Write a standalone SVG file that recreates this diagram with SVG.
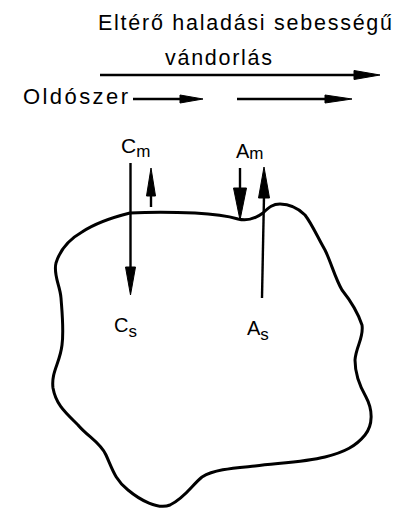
<svg xmlns="http://www.w3.org/2000/svg" width="404" height="512" viewBox="0 0 404 512">
  <style>
    .lbl { font-family: "Liberation Sans", "DejaVu Sans", sans-serif; fill: #000; }
    .shaft { stroke: #000; stroke-width: 2.4; fill: none; }
    .head { fill: #000; stroke: #000; stroke-width: 1; stroke-linejoin: round; }
    .outline { fill: none; stroke: #000; stroke-width: 3; stroke-linejoin: round; }
  </style>
  <rect width="404" height="512" fill="#fff"/>

  <!-- heading -->
  <g id="title">
    <text class="lbl" x="98" y="30" font-size="21.5" textLength="294" lengthAdjust="spacing">Eltérő haladási sebességű</text>
    <text class="lbl" x="165" y="65" font-size="21.5" textLength="107" lengthAdjust="spacing">vándorlás</text>
  </g>
  <g id="solvent">
    <text class="lbl" x="23" y="104" font-size="22" textLength="105" lengthAdjust="spacing">Oldószer</text>
  </g>

  <!-- particle outline -->
  <g id="particle">
    <path class="outline" d="M130,213 C150,212 170,212 195,213 C215,214 228,216 238,219 C246,221 255,219 263,213 C269,207 273,204 280,204 C290,204 298,208 305,215 C312,224 318,238 325,250 C331,262 335,278 342,290 C350,300 357,310 362,325 C364,338 356,346 355,360 C355,373 358,383 366,397 C373,410 373,425 365,435 C356,446 345,452 325,457 C305,462 280,463 255,466 C235,468 215,469 202,477 C192,485 185,498 170,505 C158,510 140,500 128,490 C115,480 112,468 106,455 C100,442 88,437 78,425 C66,413 56,405 53,388 C51,372 60,363 62,345 C64,330 62,312 61,298 C60,285 53,275 56,263 C60,250 68,240 82,232 C94,224 110,218 130,213 Z"/>
  </g>

  <!-- labels -->
  <g id="Cm">
    <text class="lbl" x="121" y="153" font-size="21">C<tspan font-size="17" dy="4">m</tspan></text>
  </g>
  <g id="Am">
    <text class="lbl" x="236" y="158" font-size="20">A<tspan font-size="17" dy="1">m</tspan></text>
  </g>
  <g id="Cs">
    <text class="lbl" x="114" y="332" font-size="20">C<tspan font-size="17" dy="5">s</tspan></text>
  </g>
  <g id="As">
    <text class="lbl" x="247" y="335" font-size="20">A<tspan font-size="17" dy="5">s</tspan></text>
  </g>

  <!-- arrows -->
  <g id="connectors">
    <line class="shaft" x1="100" y1="75" x2="358" y2="75"/>
    <polygon class="head" points="380,75 354,70.5 354,79.5"/>

    <line class="shaft" x1="133" y1="99" x2="184" y2="99"/>
    <polygon class="head" points="203,99 180,95 180,103"/>

    <line class="shaft" x1="237" y1="99" x2="330" y2="99"/>
    <polygon class="head" points="352,99 325,95 325,103"/>

    <line class="shaft" x1="130.5" y1="163" x2="130.5" y2="270"/>
    <polygon class="head" points="130.5,295 125.5,267 135.5,267"/>

    <line class="shaft" x1="151" y1="207" x2="151" y2="192"/>
    <polygon class="head" points="151,168 146.5,196 155.5,196"/>

    <line class="shaft" x1="240" y1="168" x2="240" y2="192"/>
    <polygon class="head" points="240,220 233.5,188 246.5,188"/>

    <line class="shaft" x1="262" y1="298" x2="264" y2="196" stroke-width="1.8"/>
    <polygon class="head" points="264,167 258.5,198 269.5,198"/>
  </g>
</svg>
